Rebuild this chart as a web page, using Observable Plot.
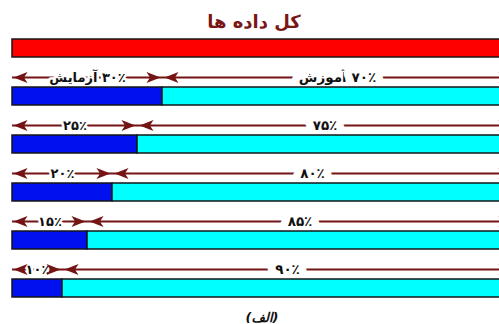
<!DOCTYPE html>
<html>
<head>
<meta charset="utf-8">
<script src="https://cdn.jsdelivr.net/npm/d3@7"></script>
<script src="https://cdn.jsdelivr.net/npm/@observablehq/plot@0.6"></script>
<style>
  html, body { margin: 0; padding: 0; background: #fff; }
  #chart svg text { direction: rtl; unicode-bidi: embed; }
</style>
</head>
<body>
<div id="chart"></div>
<script>
// ---- data ----
const titleText = "کل داده ها";
const captionText = "(الف)";
const rowKeys = ["total", "r1", "r2", "r3", "r4", "r5"];
const totalPct = 100;
const testPct = [30, 25, 20, 15, 10];
const trainPct = [70, 75, 80, 85, 90];
const testLabels = ["۳۰٪ آزمایش", "۲۵٪", "۲۰٪", "۱۵٪", "۱۰٪"];
const trainLabels = ["۷۰٪ آموزش", "۷۵٪", "۸۰٪", "۸۵٪", "۹۰٪"];

// ---- styles ----
const RED = "#ff0000", BLUE = "#0010ee", CYAN = "#00ffff", MAROON = "#741414", EDGE = "#161616";

const splits = rowKeys.slice(1).map((row, i) => ({
  row, test: testPct[i], train: trainPct[i],
  testLabel: testLabels[i], trainLabel: trainLabels[i]
}));
const totalRow = [{row: rowKeys[0], total: totalPct}];

// arrowhead symbols (tip at origin)
const headRight = {draw(ctx, size) {
  const s = Math.sqrt(size / Math.PI);
  ctx.moveTo(0, 0); ctx.lineTo(-2 * s, -0.8 * s); ctx.lineTo(-1.5 * s, 0); ctx.lineTo(-2 * s, 0.8 * s); ctx.closePath();
}};
const headLeft = {draw(ctx, size) {
  const s = Math.sqrt(size / Math.PI);
  ctx.moveTo(0, 0); ctx.lineTo(2 * s, -0.8 * s); ctx.lineTo(1.5 * s, 0); ctx.lineTo(2 * s, 0.8 * s); ctx.closePath();
}};

const lab = -19; // annotation line offset above each bar
const font = "DejaVu Sans";
const headR = 7;

const chart = Plot.plot({
  width: 499,
  height: 324,
  margin: 0,
  style: {background: "#fff", fontFamily: font},
  x: {domain: [0, totalPct], range: [12, 512], axis: null},
  y: {type: "band", domain: rowKeys, range: [38.5, 297], paddingInner: 0.625, paddingOuter: 0, axis: null},
  marks: [
    // title & caption
    Plot.text([titleText], {frameAnchor: "top", lineAnchor: "middle", dy: 22, dx: 4, fontSize: 18, fontWeight: "bold", fill: "#7a1616", fontFamily: font}),
    Plot.text([captionText], {frameAnchor: "bottom", lineAnchor: "middle", dy: -7, dx: 12, fontSize: 13, fontWeight: "bold", fontStyle: "italic", fill: "#111", fontFamily: font}),
    // dimension lines
    Plot.ruleY(splits, {y: "row", x1: 0, x2: "test", dy: lab, stroke: MAROON, strokeWidth: 2}),
    Plot.ruleY(splits, {y: "row", x1: "test", x2: d => d.test + d.train, dy: lab, stroke: MAROON, strokeWidth: 2}),
    // labels with white halo to break the lines
    Plot.text(splits, {y: "row", x: d => d.test / 2, text: "testLabel", dy: lab, fontSize: 13, fontWeight: "bold", fill: "#111", stroke: "white", strokeWidth: 5, fontFamily: font}),
    Plot.text(splits, {y: "row", x: d => d.test + d.train / 2, text: "trainLabel", dy: lab, fontSize: 13.5, fontWeight: "bold", fill: "#111", stroke: "white", strokeWidth: 16, fontFamily: font}),
    // bars (drawn over the halos)
    Plot.barX(totalRow, {y: "row", x1: 0, x2: "total", fill: RED, stroke: EDGE, strokeWidth: 1.5}),
    Plot.barX(splits, {y: "row", x1: 0, x2: "test", fill: BLUE, stroke: EDGE, strokeWidth: 1.5}),
    Plot.barX(splits, {y: "row", x1: "test", x2: d => d.test + d.train, fill: CYAN, stroke: EDGE, strokeWidth: 1.5}),
    // arrowheads
    Plot.dot(splits, {y: "row", x: () => 0, dx: 1, dy: lab, symbol: headLeft, r: headR, fill: MAROON, stroke: null}),
    Plot.dot(splits, {y: "row", x: "test", dx: -2, dy: lab, symbol: headRight, r: headR, fill: MAROON, stroke: null}),
    Plot.dot(splits, {y: "row", x: "test", dx: 2, dy: lab, symbol: headLeft, r: headR, fill: MAROON, stroke: null}),
    Plot.dot(splits, {y: "row", x: d => d.test + d.train, dx: 0, dy: lab, symbol: headRight, r: headR, fill: MAROON, stroke: null})
  ]
});
document.getElementById("chart").appendChild(chart);
</script>
</body>
</html>
